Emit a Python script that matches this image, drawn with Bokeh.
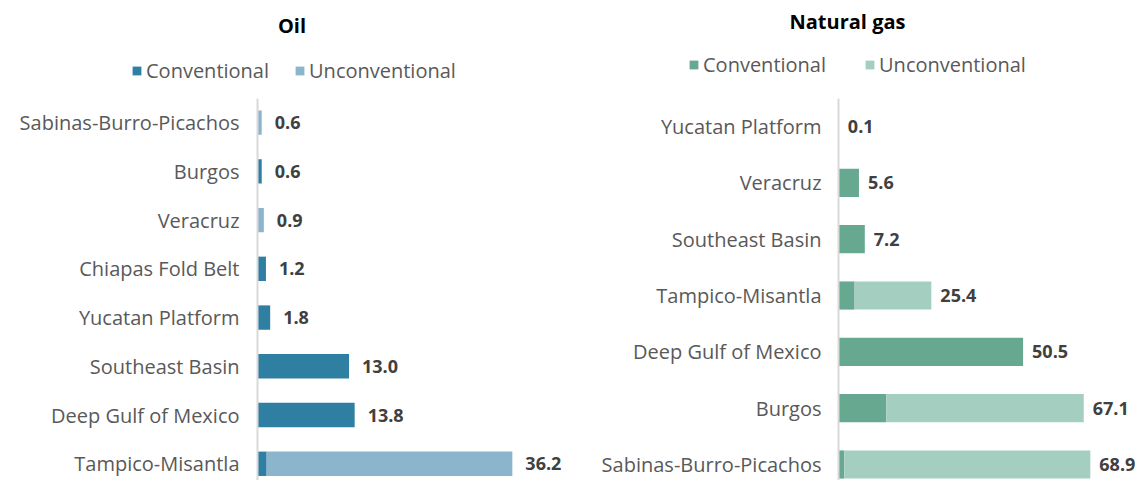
from bokeh.plotting import figure
from bokeh.models import Range1d, Legend, LegendItem, ColumnDataSource, Label
from bokeh.layouts import row
from bokeh.embed import file_html
from bokeh.resources import INLINE
from bokeh.core.properties import value

# ---------------- data ----------------
oil_basins = ["Sabinas-Burro-Picachos", "Burgos", "Veracruz", "Chiapas Fold Belt",
              "Yucatan Platform", "Southeast Basin", "Deep Gulf of Mexico", "Tampico-Misantla"]
oil_conventional = [0.0, 0.6, 0.0, 1.2, 1.8, 13.0, 13.8, 1.3]
oil_unconventional = [0.6, 0.0, 0.9, 0.0, 0.0, 0.0, 0.0, 34.9]

gas_basins = ["Yucatan Platform", "Veracruz", "Southeast Basin", "Tampico-Misantla",
              "Deep Gulf of Mexico", "Burgos", "Sabinas-Burro-Picachos"]
gas_conventional = [0.1, 5.6, 7.2, 4.4, 50.5, 13.1, 1.6]
gas_unconventional = [0.0, 0.0, 0.0, 21.0, 0.0, 54.0, 67.3]

series_names = ["Conventional", "Unconventional"]

# ---------------- style ----------------
FONT = "Open Sans"
LABEL_COLOR = "#595959"
VALUE_COLOR = "#404040"
OIL_COLORS = ["#2E7FA2", "#8BB4CD"]
GAS_COLORS = ["#67A891", "#A4CFC0"]
HEIGHT = 480
AXIS_TOP_PX = 98


def make_panel(title, basins, conv, unconv, colors, width, zero_px, px_per_unit,
               row_px, top_px, bottom_px, title_x, title_y, legend_xy, legend_spacing,
               standoff, value_offset):
    n = len(basins)
    ys = [n - 1 - i for i in range(n)]
    totals = [round(c + u, 1) for c, u in zip(conv, unconv)]
    src = ColumnDataSource(dict(
        y=ys, basin=basins, conv=conv, unconv=unconv, total=totals,
        label=[f"{t:.1f}" for t in totals], zero=[0] * n))

    y_end = (n - 1) + top_px / row_px
    y_start = -bottom_px / row_px
    x_range = Range1d(-zero_px / px_per_unit, (width - zero_px) / px_per_unit)
    y_range = Range1d(y_start, y_end)

    p = figure(width=width, height=HEIGHT, x_range=x_range, y_range=y_range,
               output_backend="svg", toolbar_location=None, title=None,
               min_border_left=0, min_border_right=0, min_border_bottom=0, min_border_top=0)

    rs = p.hbar_stack(["conv", "unconv"], y="y", height=0.5, color=colors,
                      line_color=None, source=src)

    # vertical category axis line
    p.segment(x0=[0], x1=[0], y0=[y_start], y1=[y_end - AXIS_TOP_PX / row_px],
              line_color="#D9D9D9", line_width=2)

    p.text(x="zero", y="y", text="basin", source=src, x_offset=-standoff,
           text_align="right", text_baseline="middle", text_font=value(FONT),
           text_font_size="20px", text_color=LABEL_COLOR)
    p.text(x="total", y="y", text="label", source=src, x_offset=value_offset,
           text_align="left", text_baseline="middle", text_font=value(FONT),
           text_font_size="18px", text_font_style="bold", text_color=VALUE_COLOR)

    p.add_layout(Label(x=title_x, y=title_y, x_units="screen", y_units="screen",
                       text=title, text_font=FONT, text_font_size="20px",
                       text_font_style="bold", text_color="#000000",
                       text_align="center", text_baseline="middle"))

    legend = Legend(items=[LegendItem(label=series_names[0], renderers=[rs[0]]),
                           LegendItem(label=series_names[1], renderers=[rs[1]])],
                    orientation="horizontal", location=legend_xy,
                    glyph_width=11, glyph_height=11, label_standoff=4, label_height=20,
                    spacing=legend_spacing, label_text_font=FONT,
                    label_text_font_size="20px", label_text_color=LABEL_COLOR,
                    border_line_color=None, background_fill_alpha=0,
                    padding=0, margin=0)
    p.add_layout(legend, "center")

    p.xaxis.visible = False
    p.yaxis.visible = False
    p.xgrid.visible = False
    p.ygrid.visible = False
    p.outline_line_color = None
    return p


p1 = make_panel("Oil", oil_basins, oil_conventional, oil_unconventional, OIL_COLORS,
                width=578, zero_px=257, px_per_unit=7.04, row_px=48.7,
                top_px=122, bottom_px=HEIGHT - 463.3, title_x=291.5, title_y=HEIGHT - 25,
                legend_xy=(131, HEIGHT - 74 - 10), legend_spacing=25, standoff=18,
                value_offset=13)
p2 = make_panel("Natural gas", gas_basins, gas_conventional, gas_unconventional, GAS_COLORS,
                width=558, zero_px=260, px_per_unit=3.655, row_px=56.3,
                top_px=126, bottom_px=HEIGHT - 464, title_x=269, title_y=HEIGHT - 21,
                legend_xy=(110, HEIGHT - 68 - 10), legend_spacing=38, standoff=17,
                value_offset=9)

layout = row(p1, p2)
open("out.html", "w").write(file_html(layout, INLINE))
